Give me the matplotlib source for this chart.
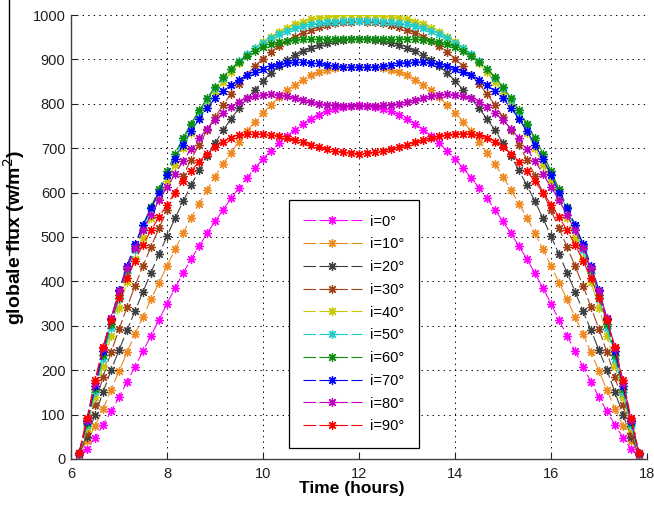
import numpy as np
import matplotlib
matplotlib.use("Agg")
import matplotlib.pyplot as plt
from matplotlib.lines import Line2D

plt.rcParams['font.family'] = ['Liberation Sans', 'DejaVu Sans']
plt.rcParams['lines.scale_dashes'] = False

# time of day, minutes (10 min step)
minutes = [370, 380, 390, 400, 410, 420, 430, 440, 450, 460,
           470, 480, 490, 500, 510, 520, 530, 540, 550, 560,
           570, 580, 590, 600, 610, 620, 630, 640, 650, 660,
           670, 680, 690, 700, 710, 720, 730, 740, 750, 760,
           770, 780, 790, 800, 810, 820, 830, 840, 850, 860,
           870, 880, 890, 900, 910, 920, 930, 940, 950, 960,
           970, 980, 990, 1000, 1010, 1020, 1030, 1040, 1050, 1060,
           1070]

labels = ['i=0°', 'i=10°', 'i=20°', 'i=30°', 'i=40°',
          'i=50°', 'i=60°', 'i=70°', 'i=80°', 'i=90°']
colors = ['#ff00ff', '#ee8a22', '#404040', '#a0421a', '#c8c800',
          '#22cccc', '#108c10', '#0000ff', '#bf00bf', '#ff0000']

# globale flux (w/m2) for each inclination
g0 = [10, 22, 48, 77, 107, 139, 174, 208, 243, 278, 313, 350, 385, 418, 450, 479, 508, 535,
      561, 587, 611, 634, 655, 676, 694, 712, 728, 742, 755, 766, 775, 783, 789, 793, 796, 797,
      796, 793, 789, 783, 775, 766, 755, 742, 728, 712, 694, 676, 655, 634, 611, 587, 561,
      535, 508, 479, 450, 418, 385, 350, 313, 278, 243, 208, 174, 139, 107, 77, 48, 22, 10]
g10 = [12, 40, 75, 113, 155, 198, 240, 282, 320, 360, 397, 435, 472, 508, 543, 575, 606, 636,
       664, 690, 715, 739, 760, 780, 798, 815, 830, 843, 854, 864, 871, 876, 880, 882, 883, 883,
       883, 882, 880, 876, 871, 864, 854, 843, 830, 815, 798, 780, 760, 739, 715, 690, 664,
       636, 606, 575, 543, 508, 472, 435, 397, 360, 320, 282, 240, 198, 155, 113, 75, 40, 12]
g20 = [12, 50, 100, 150, 200, 245, 290, 333, 377, 420, 461, 502, 542, 580, 616, 650, 682, 712,
       740, 766, 790, 812, 832, 852, 870, 885, 898, 909, 918, 926, 933, 938, 942, 944, 946, 946,
       946, 944, 942, 938, 933, 926, 918, 909, 898, 885, 870, 852, 832, 812, 790, 766, 740,
       712, 682, 650, 616, 580, 542, 502, 461, 420, 377, 333, 290, 245, 200, 150, 100, 50, 12]
g30 = [13, 58, 122, 185, 240, 292, 342, 390, 435, 478, 520, 560, 600, 638, 674, 708, 740, 770,
       797, 822, 845, 866, 885, 902, 917, 930, 941, 951, 960, 967, 973, 978, 982, 984, 985, 986,
       985, 984, 982, 978, 973, 967, 960, 951, 941, 930, 917, 902, 885, 866, 845, 822, 797,
       770, 740, 708, 674, 638, 600, 560, 520, 478, 435, 390, 342, 292, 240, 185, 122, 58, 13]
g40 = [13, 70, 140, 210, 278, 340, 398, 450, 498, 543, 585, 625, 663, 700, 735, 767, 797, 824,
       849, 871, 891, 909, 925, 939, 951, 962, 971, 979, 985, 990, 994, 996, 998, 999, 999, 999,
       999, 999, 998, 996, 994, 990, 985, 979, 971, 962, 951, 939, 925, 909, 891, 871, 849,
       824, 797, 767, 735, 700, 663, 625, 585, 543, 498, 450, 398, 340, 278, 210, 140, 70, 13]
g50 = [13, 76, 150, 225, 295, 360, 418, 470, 518, 562, 603, 643, 682, 718, 752, 782, 810, 835,
       858, 878, 896, 912, 926, 938, 948, 957, 964, 970, 975, 979, 982, 984, 985, 986, 986, 986,
       986, 986, 985, 984, 982, 979, 975, 970, 964, 957, 948, 938, 926, 912, 896, 878, 858,
       835, 810, 782, 752, 718, 682, 643, 603, 562, 518, 470, 418, 360, 295, 225, 150, 76, 13]
g60 = [13, 80, 158, 235, 305, 370, 428, 480, 527, 568, 608, 648, 688, 723, 755, 785, 812, 838,
       860, 879, 895, 908, 919, 928, 935, 939, 942, 944, 945, 946, 946, 946, 946, 946, 946, 946,
       946, 946, 946, 946, 946, 946, 945, 944, 942, 939, 935, 928, 919, 908, 895, 879, 860,
       838, 812, 785, 755, 723, 688, 648, 608, 568, 527, 480, 428, 370, 305, 235, 158, 80, 13]
g70 = [13, 85, 165, 243, 315, 380, 435, 485, 527, 565, 600, 640, 675, 708, 738, 766, 790, 812,
       828, 842, 854, 864, 872, 879, 885, 889, 892, 894, 894, 893, 891, 888, 885, 883, 882, 882,
       882, 883, 885, 888, 891, 893, 894, 894, 892, 889, 885, 879, 872, 864, 854, 842, 828,
       812, 790, 766, 738, 708, 675, 640, 600, 565, 527, 485, 435, 380, 315, 243, 165, 85, 13]
g80 = [13, 88, 172, 250, 318, 378, 430, 475, 515, 550, 583, 612, 642, 671, 698, 722, 744, 763,
       779, 793, 804, 812, 817, 820, 821, 820, 817, 813, 808, 804, 800, 798, 797, 796, 796, 796,
       796, 796, 797, 798, 800, 804, 808, 813, 817, 820, 821, 820, 817, 812, 804, 793, 779,
       763, 744, 722, 698, 671, 642, 612, 583, 550, 515, 475, 430, 378, 318, 250, 172, 88, 13]
g90 = [14, 92, 178, 252, 313, 362, 407, 447, 483, 515, 545, 573, 600, 625, 648, 670, 688, 703,
       715, 724, 729, 732, 733, 732, 730, 727, 723, 718, 713, 707, 702, 698, 694, 691, 689, 688,
       689, 691, 694, 698, 702, 707, 713, 718, 723, 727, 730, 732, 733, 732, 729, 724, 715,
       703, 688, 670, 648, 625, 600, 573, 545, 515, 483, 447, 407, 362, 313, 252, 178, 92, 14]

series = [g0, g10, g20, g30, g40, g50, g60, g70, g80, g90]
hours = np.array(minutes) / 60.0

fig = plt.figure(figsize=(6.54, 5.07), dpi=100)
ax = fig.add_axes([0.1086, 0.0947, 0.8807, 0.8757])

for g, c, lab in zip(series, colors, labels):
    ax.plot(hours, g, color=c, linestyle=(0, (9, 2.5)), linewidth=0.8,
            marker=(8, 2, 0), markersize=6.5, markeredgewidth=0.9, label=lab)

ax.set_xlim(6, 18)
ax.set_ylim(0, 1000)
ax.set_xticks(np.arange(6, 19, 2))
ax.set_yticks(np.arange(0, 1001, 100))
ax.grid(True, color='k', linestyle=(0, (1, 3)), linewidth=0.7)
ax.set_axisbelow(True)

for s in ['top', 'right']:
    ax.spines[s].set_visible(False)
for s in ['left', 'bottom']:
    ax.spines[s].set_color('#404040')
    ax.spines[s].set_linewidth(1.0)
ax.tick_params(direction='in', length=4, width=0.8, labelsize=10.5,
               colors='#202020')
ax.tick_params(axis='y', pad=4)
ax.tick_params(axis='x', pad=6)

ax.set_xlabel('Time (hours)', fontsize=12.5, fontweight='bold')
ax.set_ylabel('globale flux (w/m$^2$)', fontsize=14, fontweight='bold')
ax.xaxis.set_label_coords(0.487, -0.05)
ax.yaxis.set_label_coords(-0.076, 0.5)

leg = ax.legend(loc='lower left', bbox_to_anchor=(0.378, 0.025), borderaxespad=0,
                fontsize=10.5, numpoints=1, handlelength=4.0, handletextpad=0.6,
                labelspacing=0.6, borderpad=1.0, fancybox=False, framealpha=1)
leg.get_frame().set_edgecolor('k')
leg.get_frame().set_linewidth(0.9)

# stray border line at the left edge of the original figure
fig.add_artist(Line2D([0.014, 0.014], [1.0, 1 - 255 / 507],
                      color='k', linewidth=1.0))

fig.savefig('out.png', dpi=100)
